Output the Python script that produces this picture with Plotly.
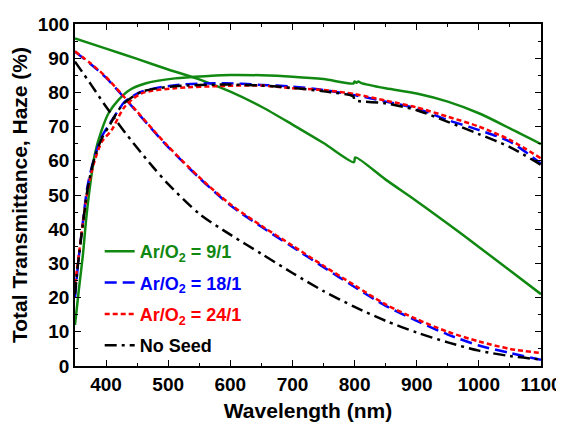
import plotly.graph_objects as go

# ---- data ----
# Ar/O2 = 9/1
wl_t91 = [350, 356, 363, 368, 374, 382, 393, 404, 420, 438, 463, 511, 565, 600, 650, 700, 750,
          798, 800, 803, 806, 810, 850, 900, 950, 1000, 1050, 1100]
t91 = [12, 22, 33, 43, 52.4, 62, 69, 73.9, 77.8, 80.7, 82.6, 84.1, 84.8, 85.1, 85.0, 84.6, 83.9,
       82.6, 83.2, 82.8, 83.2, 82.8, 81.2, 79.7, 77.3, 73.9, 69.5, 64.9]
wl_h91 = [350, 400, 450, 500, 550, 600, 650, 700, 750, 799, 801, 850, 900, 950, 1000, 1050, 1100]
h91 = [95.8, 92.8, 89.8, 86.7, 83.8, 80.2, 75.8, 70.6, 65.2, 59.6, 61.0, 54.5, 48.2, 41.6, 34.8, 27.9, 21.0]

# Ar/O2 = 18/1
wl_t181 = [350, 355, 363, 370, 380, 393, 406, 420, 430, 457, 511, 591, 650, 700, 750, 800, 850, 900, 950, 1000, 1050, 1100]
t181 = [20, 30, 42.6, 52.4, 60.2, 67, 70.9, 74.8, 77.3, 80.2, 82.1, 82.7, 82.2, 81.7, 80.7, 79.2, 77.3, 75.3, 71.9, 69.0, 65.6, 59.2]
wl_h181 = [350, 375, 400, 425, 450, 475, 500, 550, 600, 650, 700, 750, 800, 850, 900, 950, 1000, 1050, 1100]
h181 = [91.9, 88.3, 84.3, 79.3, 74.2, 69.0, 64.0, 55.0, 47.0, 40.7, 34.8, 28.9, 23.1, 17.6, 13.2, 9.2, 6.0, 3.8, 1.8]

# Ar/O2 = 24/1
wl_t241 = [350, 355, 363, 370, 380, 393, 409, 430, 457, 511, 591, 650, 700, 750, 800, 850, 900, 950, 1000, 1050, 1100]
t241 = [24, 31, 42, 51, 59, 65.5, 69, 75.8, 79.7, 81.2, 81.9, 82.0, 81.2, 80.7, 79.5, 77.6, 75.6, 72.9, 70.0, 66.1, 60.7]
wl_h241 = [350, 375, 400, 425, 450, 475, 500, 550, 600, 650, 700, 750, 800, 850, 900, 950, 1000, 1050, 1100]
h241 = [92.0, 88.5, 84.5, 79.5, 74.4, 69.2, 64.2, 55.2, 47.3, 41.0, 35.2, 29.3, 23.6, 18.0, 13.7, 10.0, 7.2, 5.0, 3.8]

# No Seed
wl_tns = [350, 355, 363, 370, 380, 393, 406, 420, 430, 457, 511, 591, 650, 700, 750, 798, 800, 850, 900, 950, 1000, 1050, 1100]
tns = [21, 30, 42, 51.5, 60, 66.5, 70.5, 74.8, 77.0, 80.2, 81.8, 82.3, 82.0, 81.3, 80.3, 78.8, 77.8, 76.8, 74.8, 71.4, 67.8, 64.0, 58.8]
wl_hns = [350, 375, 400, 425, 450, 475, 500, 550, 600, 650, 700, 750, 800, 850, 900, 950, 1000, 1050, 1100]
hns = [89.0, 82.5, 75.8, 69.6, 63.8, 58.3, 53.2, 44.5, 38.4, 32.8, 27.2, 21.9, 17.3, 13.2, 9.8, 6.9, 4.5, 2.9, 1.9]

names = ["Ar/O<sub>2</sub> = 9/1", "Ar/O<sub>2</sub> = 18/1", "Ar/O<sub>2</sub> = 24/1", "No Seed"]
colors = ["#118811", "#0000ff", "#ff0000", "#000000"]
dashes = ["solid", "12px,6px", "5px,3px", "12px,5px,3px,5px"]
series = [((wl_t91, t91), (wl_h91, h91)),
          ((wl_t181, t181), (wl_h181, h181)),
          ((wl_t241, t241), (wl_h241, h241)),
          ((wl_tns, tns), (wl_hns, hns))]

fig = go.Figure()
for i, (tr, hz) in enumerate(series):
    label = f'<span style="color:{colors[i]}">{names[i]}</span>'
    for j, (xs, ys) in enumerate((tr, hz)):
        fig.add_trace(go.Scatter(
            x=xs, y=ys, mode="lines", name=label, legendgroup=str(i),
            showlegend=(j == 0),
            line=dict(color=colors[i], width=2.5, dash=dashes[i], shape="spline", smoothing=0.8),
        ))

axis_common = dict(
    showline=True, linecolor="black", linewidth=1.5, mirror="allticks",
    ticks="inside", ticklen=6, tickwidth=1.2, tickcolor="black",
    showgrid=False, zeroline=False, automargin=False, ticklabeloverflow="allow",
    tickfont=dict(family="Liberation Sans, Arial", size=19, color="black", weight="bold"),
)

# page body has an 8px margin, so the figure is sized to fit the 564x425 window
fig.update_layout(
    width=556, height=417,
    margin=dict(l=67, r=23, t=16, b=59),
    plot_bgcolor="white", paper_bgcolor="white",
    font=dict(family="Liberation Sans, Arial", color="black"),
    xaxis=dict(range=[350, 1100], tickvals=[400, 500, 600, 700, 800, 900, 1000, 1100],
               minor=dict(dtick=50, tick0=350, ticks="inside", ticklen=3, tickcolor="black"),
               title=dict(text="<b>Wavelength (nm)</b>", font=dict(size=21), standoff=10),
               **axis_common),
    yaxis=dict(range=[0, 100], dtick=10, tick0=0,
               minor=dict(dtick=5, ticks="inside", ticklen=3, tickcolor="black"),
               title=dict(text="<b>Total Transmittance, Haze (%)</b>", font=dict(size=21), standoff=6),
               **axis_common),
    legend=dict(x=0.053, y=0.389, xanchor="left", yanchor="top", bgcolor="rgba(0,0,0,0)",
                font=dict(size=18, weight="bold"), tracegroupgap=5),
    showlegend=True,
)

fig.write_html("out.html")
